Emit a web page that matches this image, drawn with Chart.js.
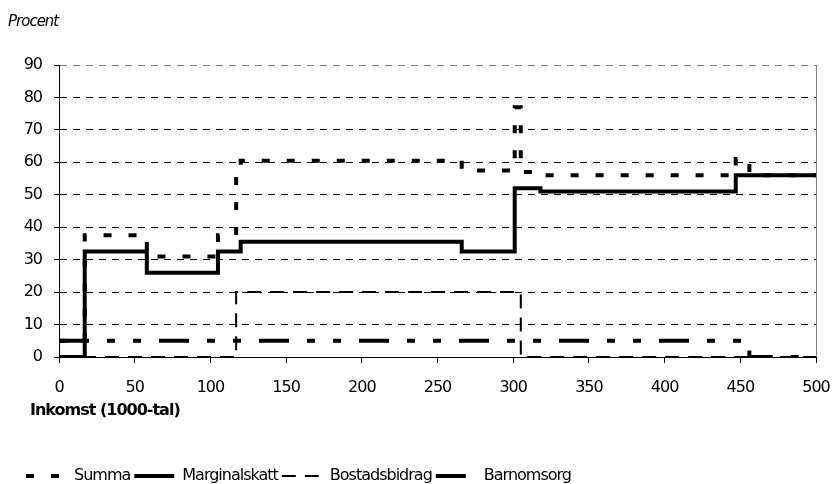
<!DOCTYPE html>
<html>
<head>
<meta charset="utf-8">
<script src="https://cdn.jsdelivr.net/npm/chart.js@4"></script>
<style>
  html, body { margin: 0; padding: 0; background: #fff; }
  #wrap { width: 832px; height: 484px; position: relative; }
</style>
</head>
<body>
<div id="wrap"><canvas id="chart" width="832" height="484"></canvas></div>
<script>
const FONT = "'DejaVu Sans', sans-serif";

// step breakpoints (income, 1000-tal) and the level that starts there
const summaX = [0, 17, 58, 105, 117, 120, 266, 301, 305, 318, 447, 456, 500];
const summaY = [5, 37.5, 31, 37.5, 57.5, 60.5, 57.5, 77, 57, 56, 61, 56, 56];

const marginalX = [0, 17, 58, 105, 120, 266, 301, 318, 447, 500];
const marginalY = [0, 32.5, 26, 32.5, 35.5, 32.5, 52, 51, 56, 56];

const bostadX = [0, 117, 305, 500];
const bostadY = [0, 20, 0, 0];

const barnX = [0, 456, 500];
const barnY = [5, 0, 0];

const seriesLabels = ['Summa', 'Marginalskatt', 'Bostadsbidrag', 'Barnomsorg'];

const toPoints = (xs, ys) => xs.map((x, i) => ({ x, y: ys[i] }));

// the original uses a condensed face, tighten the letters a bit
const narrowText = {
  id: 'narrowText',
  beforeLayout(chart) { chart.ctx.letterSpacing = '-1px'; },
  beforeDraw(chart) { chart.ctx.letterSpacing = '-1px'; },
};

// legend sits a little lower in the original
const legendNudge = {
  id: 'legendNudge',
  afterLayout(chart) {
    if (chart.legend) {
      chart.legend.top += 5;
      chart.legend.bottom += 5;
    }
  },
};

const extraText = {
  id: 'extraText',
  afterDraw(chart) {
    const { ctx, chartArea } = chart;
    ctx.save();
    // right frame of plot area
    ctx.strokeStyle = '#808080';
    ctx.lineWidth = 1;
    ctx.beginPath();
    ctx.moveTo(chartArea.right + 0.5, chartArea.top);
    ctx.lineTo(chartArea.right + 0.5, chartArea.bottom);
    ctx.stroke();

    ctx.fillStyle = '#000';
    ctx.textBaseline = 'middle';
    ctx.textAlign = 'left';
    ctx.font = `italic 15px ${FONT}`;
    ctx.fillText('Procent', 8, 22);
    ctx.font = `bold 16px ${FONT}`;
    ctx.fillText('Inkomst (1000-tal)', 30, 411);
    ctx.restore();
  },
};

const baseLine = {
  borderColor: '#000',
  pointRadius: 0,
  pointStyle: 'line',
  fill: false,
  stepped: 'before',
};

new Chart(document.getElementById('chart'), {
  type: 'line',
  data: {
    datasets: [
      { ...baseLine, label: seriesLabels[0], data: toPoints(summaX, summaY), borderWidth: 4, borderDash: [8, 17] },
      { ...baseLine, label: seriesLabels[1], data: toPoints(marginalX, marginalY), borderWidth: 4, borderDash: [] },
      { ...baseLine, label: seriesLabels[2], data: toPoints(bostadX, bostadY), borderWidth: 2, borderDash: [14, 9] },
      { ...baseLine, label: seriesLabels[3], data: toPoints(barnX, barnY), borderWidth: 4, borderDash: [30, 18, 8, 18, 8, 18] },
    ],
  },
  options: {
    responsive: false,
    animation: false,
    layout: { padding: { top: 65, left: 22, right: 6, bottom: -5 } },
    plugins: {
      tooltip: { enabled: false },
      legend: {
        position: 'bottom',
        align: 'start',
        labels: {
          usePointStyle: true,
          pointStyleWidth: 40,
          boxHeight: 10,
          padding: 4,
          color: '#000',
          font: { family: FONT, size: 16 },
          generateLabels(chart) {
            const items = Chart.defaults.plugins.legend.labels.generateLabels(chart);
            return items.map((item) => {
              const ds = chart.data.datasets[item.datasetIndex];
              return { ...item, lineDash: ds.borderDash, lineWidth: ds.borderWidth, pointStyle: 'line' };
            });
          },
        },
      },
    },
    scales: {
      x: {
        type: 'linear',
        min: 0,
        max: 500,
        afterFit: (scale) => {
          scale.height = 102;
          scale.paddingLeft = 0;
          scale.paddingRight = 16;
        },
        ticks: { stepSize: 50, color: '#000', padding: 15, maxRotation: 0, font: { family: FONT, size: 16 } },
        grid: { drawOnChartArea: false, drawTicks: true, tickLength: 6, tickColor: '#000' },
        border: { color: '#000', width: 1 },
      },
      y: {
        min: 0,
        max: 90,
        afterFit: (scale) => { scale.width = 37; },
        ticks: { stepSize: 10, color: '#000', padding: 12, font: { family: FONT, size: 16 } },
        grid: {
          color: (ctx) => (ctx.tick && ctx.tick.value === 90 ? '#808080' : '#000'),
          lineWidth: 1,
          tickLength: 5,
          tickColor: '#000',
          tickBorderDash: [],
        },
        border: { color: '#000', width: 1, dash: [7, 6] },
      },
    },
  },
  plugins: [narrowText, legendNudge, extraText],
});
</script>
</body>
</html>
